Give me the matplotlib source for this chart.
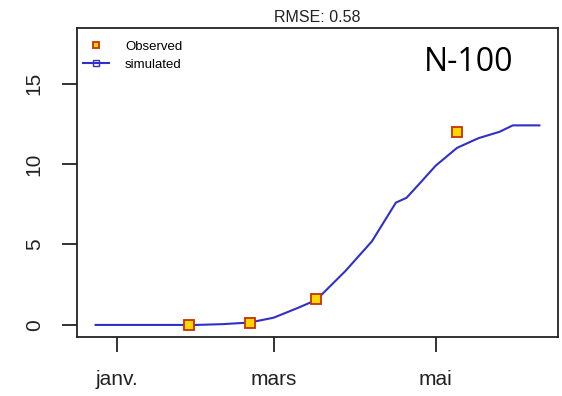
import matplotlib.pyplot as plt
import numpy as np

# observed points (date, value)
obs_dates = ["2013-01-28", "2013-02-20", "2013-03-17", "2013-05-09"]
obs_values = [0.0, 0.15, 1.6, 12.0]

# simulated curve
sim_dates = ["2012-12-24", "2013-01-10", "2013-01-31", "2013-02-10", "2013-02-20",
             "2013-03-01", "2013-03-10", "2013-03-17", "2013-03-21", "2013-03-28",
             "2013-04-07", "2013-04-16", "2013-04-20", "2013-04-25", "2013-05-01",
             "2013-05-09", "2013-05-17", "2013-05-25", "2013-05-30", "2013-06-09"]
sim_values = [0.0, 0.0, 0.0, 0.05, 0.15,
              0.45, 1.05, 1.55, 2.2, 3.35,
              5.2, 7.6, 7.9, 8.8, 9.9,
              11.0, 11.6, 12.0, 12.4, 12.4]

tick_dates = ["2013-01-01", "2013-03-01", "2013-05-01"]
tick_labels = ["janv.", "mars", "mai"]

obs_x = [np.datetime64(d) for d in obs_dates]
sim_x = [np.datetime64(d) for d in sim_dates]

plt.rcParams['font.family'] = ['Liberation Sans', 'DejaVu Sans']

fig = plt.figure(figsize=(5.62, 3.96), dpi=100)
ax = fig.add_axes([77/562, 1 - 337/396, (558-77)/562, (337-28)/396])

ax.plot(sim_x, sim_values, color='#3030c8', lw=1.5, label='simulated')
ax.plot(obs_x, obs_values, 's', ms=7.5, mfc='#ffd700', mec='#c83000', mew=1.3,
        ls='none', label='Observed', zorder=3)

ax.set_xlim(np.datetime64("2012-12-17"), np.datetime64("2013-06-16"))
ax.set_ylim(-0.75, 18.45)
ax.set_xticks([np.datetime64(d) for d in tick_dates])
ax.set_xticklabels(tick_labels)
ax.set_yticks([0, 5, 10, 15])
ax.set_yticklabels(["0", "5", "10", "15"], rotation=90, va='center')
ax.tick_params(axis='both', length=11, width=1.3, labelsize=15, colors='#222222')
ax.tick_params(axis='x', pad=13)
ax.tick_params(axis='y', pad=13)
for s in ax.spines.values():
    s.set_linewidth(1.3)
    s.set_color('#222222')

ax.set_title("RMSE: 0.58", fontsize=11.5, pad=4, color='#222222')
ax.text(0.815, 0.888, "N-100", transform=ax.transAxes, fontsize=23,
        family=['Open Sans', 'DejaVu Sans'], ha='center', va='center')

h, l = ax.get_legend_handles_labels()
leg = ax.legend([h[1], h[0]], ["Observed", "simulated"], loc='upper left',
                bbox_to_anchor=(0.012, 0.96), frameon=False, fontsize=9.5,
                handlelength=2.0, borderaxespad=0, borderpad=0,
                labelspacing=0.45, handletextpad=1.2)
# legend markers smaller than in the plot
leg.legend_handles[0].set_markersize(5)
leg.legend_handles[1].set_marker('s')
leg.legend_handles[1].set_markersize(5)
leg.legend_handles[1].set_markerfacecolor('none')
leg.legend_handles[1].set_markeredgecolor('#3030c8')

fig.savefig("out.png", dpi=100)
